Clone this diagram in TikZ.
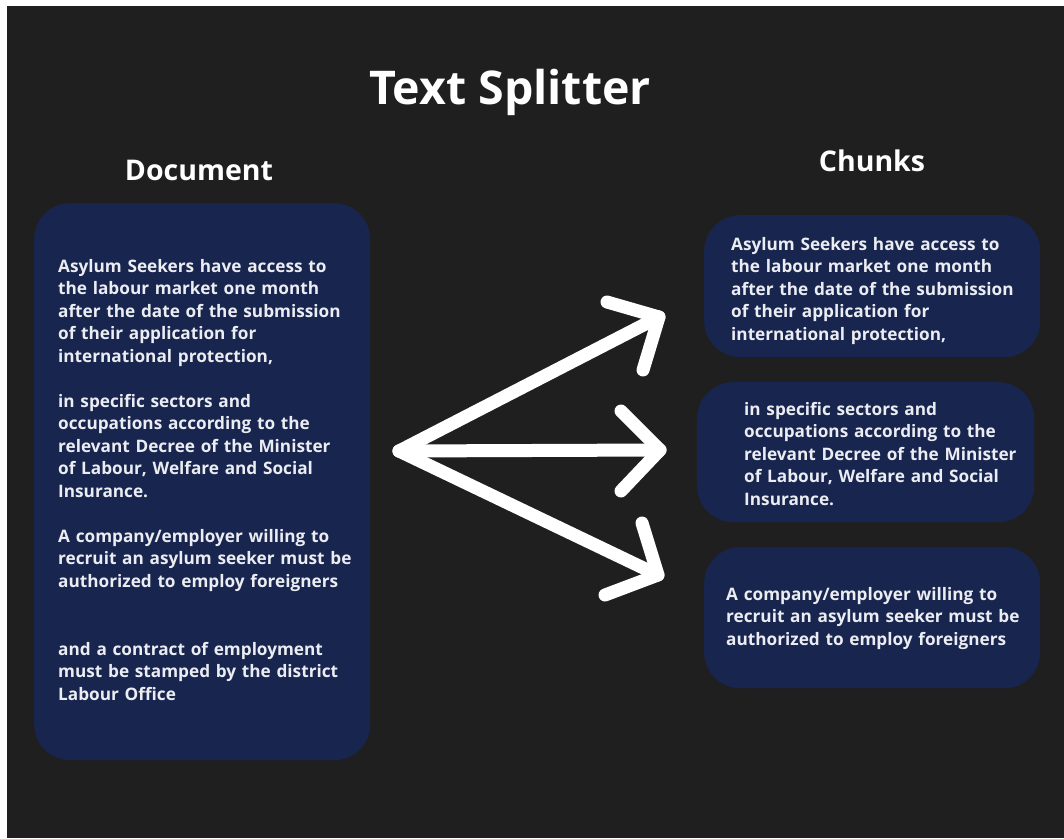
\documentclass[tikz,border=0pt]{standalone}
\usepackage{fontspec}
\setmainfont{Open Sans}
\definecolor{canvas}{HTML}{1F1F1F}
\definecolor{panel}{HTML}{18264F}
\definecolor{ink}{HTML}{ECEDF2}
\begin{document}
\begin{tikzpicture}[x=1pt,y=-1pt,
  panelbox/.style={fill=panel, draw=none, rounded corners=36pt, inner sep=0pt, anchor=north west},
  para/.style={anchor=base west, inner sep=0pt, text=ink, align=left,
    font=\bfseries\fontsize{17.2}{22.6}\selectfont, text width=320pt},
  heading/.style={anchor=base, inner sep=0pt, text=white, font=\bfseries\fontsize{28.5}{34}\selectfont},
  splitarrow/.style={draw=white, line width=13pt, line cap=round, line join=round}]
\useasboundingbox (0,0) rectangle (1064,838);
\fill[white] (0,0) rectangle (1064,838);
\fill[canvas] (7,6) rectangle (1064,838);

% title and column headings
\node (title) [heading, font=\bfseries\fontsize{46.5}{56}\selectfont] at (510,104) {Text Splitter};
\node (dochead) [heading] at (199,180) {Document};
\node (chunkhead) [heading] at (872,171) {Chunks};

% source document panel
\node (docbox) [panelbox, minimum width=336pt, minimum height=557pt] at (34,203) {};
\node (docA) [para] at (58,272) {Asylum Seekers have access to\\the labour market one month\\after the date of the submission\\of their application for\\international protection,};
\node (docB) [para] at (58,407) {in specific sectors and\\occupations according to the\\relevant Decree of the Minister\\of Labour, Welfare and Social\\Insurance.};
\node (docC) [para] at (58,542) {A company/employer willing to\\recruit an asylum seeker must be\\authorized to employ foreigners};
\node (docD) [para] at (58,655) {and a contract of employment\\must be stamped by the district\\Labour Office};

% chunk panels
\node (chunk1) [panelbox, minimum width=336pt, minimum height=142pt] at (704,215) {};
\node (chunk2) [panelbox, minimum width=337pt, minimum height=140pt] at (697,382) {};
\node (chunk3) [panelbox, minimum width=336pt, minimum height=141pt] at (704,547) {};
\node (textA) [para] at (731,250) {Asylum Seekers have access to\\the labour market one month\\after the date of the submission\\of their application for\\international protection,};
\node (textB) [para] at (744,415) {in specific sectors and\\occupations according to the\\relevant Decree of the Minister\\of Labour, Welfare and Social\\Insurance.};
\node (textC) [para] at (726,600) {A company/employer willing to\\recruit an asylum seeker must be\\authorized to employ foreigners};

% fan of arrows from the document to the chunks
\coordinate (split) at (399,451);
\coordinate (tipA) at (659,317);
\coordinate (tipB) at (660,450);
\coordinate (tipC) at (658,575);
\coordinate (armA1) at (607,302);
\coordinate (armA2) at (643,370);
\coordinate (armB1) at (621,411);
\coordinate (armB2) at (621,491);
\coordinate (armC1) at (642,523);
\coordinate (armC2) at (605,595);
\draw[splitarrow] (split) -- (tipA);
\draw[splitarrow] (split) -- (tipB);
\draw[splitarrow] (split) -- (tipC);
\draw[splitarrow] (armA1) -- (tipA) -- (armA2);
\draw[splitarrow] (armB1) -- (tipB) -- (armB2);
\draw[splitarrow] (armC1) -- (tipC) -- (armC2);
\end{tikzpicture}
\end{document}
